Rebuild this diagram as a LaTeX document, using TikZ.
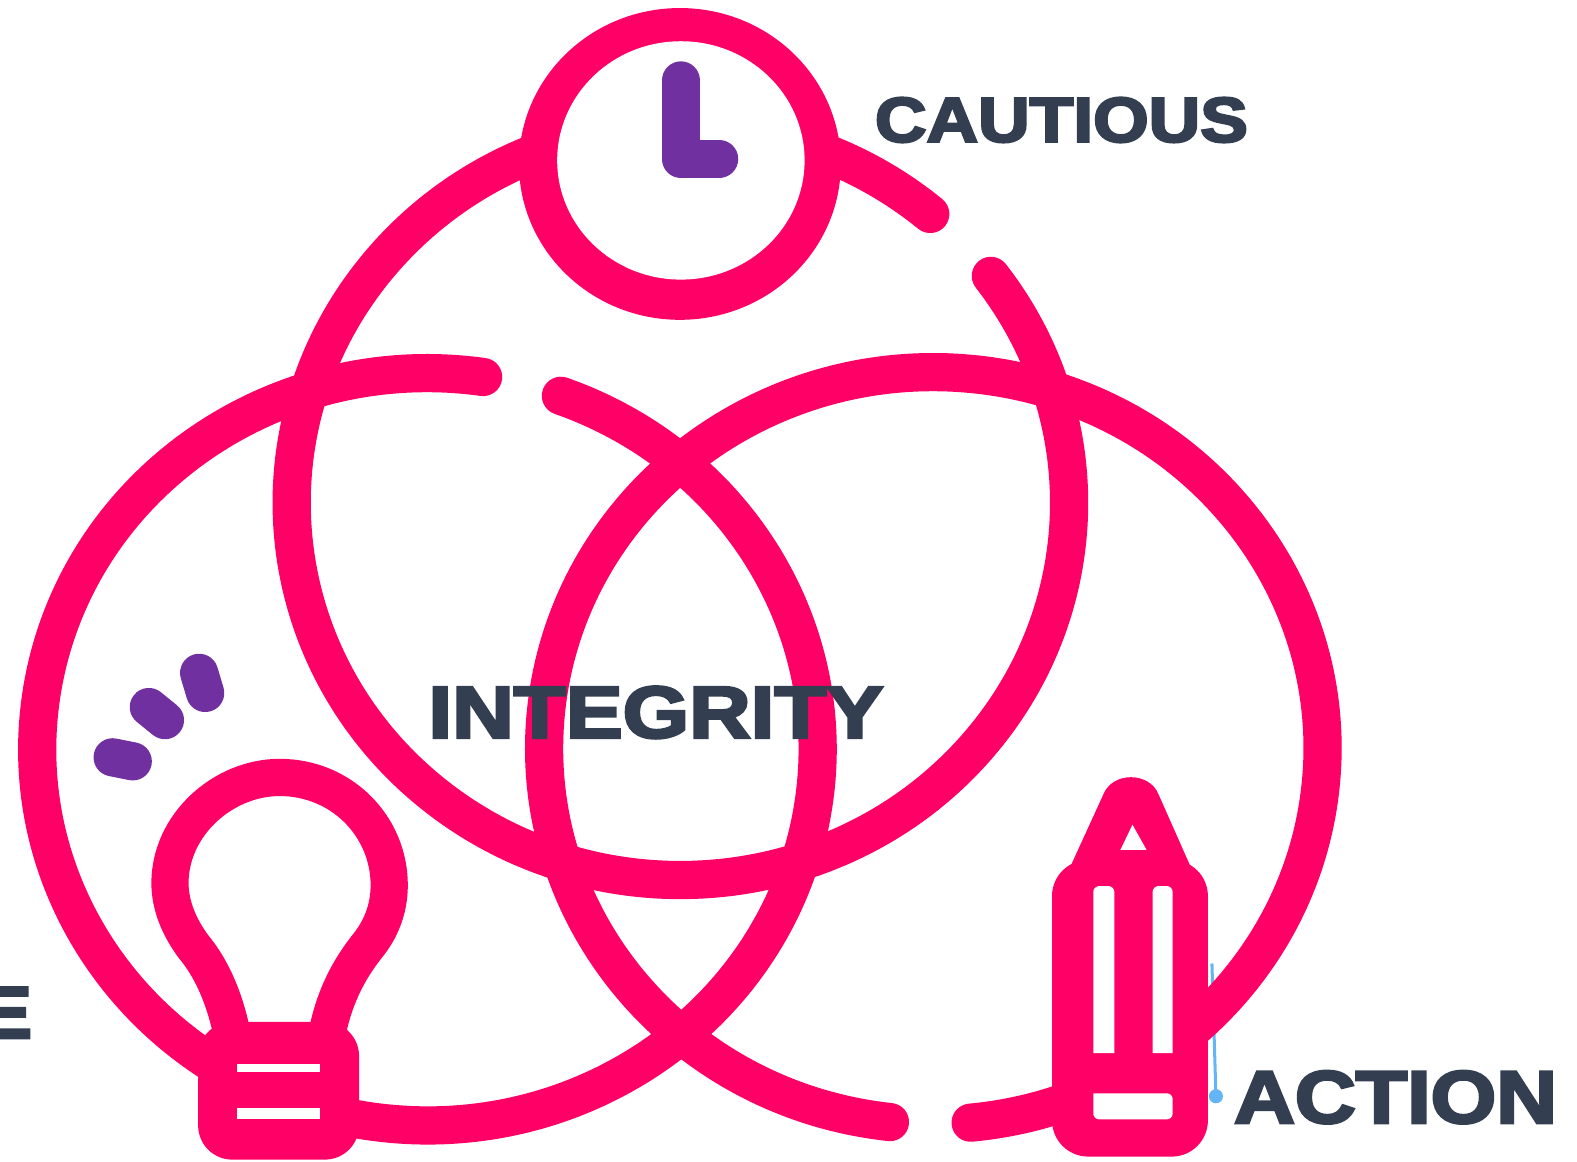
\documentclass[tikz,border=0pt]{standalone}
\usepackage{fontspec}
\usepackage{tikz}
\newfontfamily\labelfont[BoldFeatures={FakeBold=3.6}]{Liberation Sans}
\definecolor{ringPink}{HTML}{FF0066}
\definecolor{iconPurple}{HTML}{7030A0}
\definecolor{labelSlate}{HTML}{333F50}
\definecolor{guideBlue}{HTML}{64B5F6}
\newcommand\DrawRingArc[6]{% cx, cy, rx, ry, start, end
  \draw[ring line,shift={(#1,#2)}] (#5:#3 and #4) arc (#5:#6:#3 and #4);
}
\tikzset{%
  ring line/.style={draw=ringPink,line width=19pt,line cap=round},
  purple mark/.style={draw=iconPurple,line width=19pt,line cap=round,line join=round},
  window/.style={fill=white},
  word/.style={font=\labelfont\bfseries,text=labelSlate,inner sep=0pt,outer sep=0pt,anchor=base west,transform shape},
}
\begin{document}
\begin{tikzpicture}[x=0.5pt,y=-0.5pt]
\useasboundingbox (0,0) rectangle (1568,1155);
\clip (0,0) rectangle (1568,1155);

\draw[guideBlue,line width=1.5pt] (1205,958) -- (1209,1090); %guide
\fill[guideBlue] (1209,1090) circle (7);

\DrawRingArc{425}{745}{388}{374}{278.2}{-70} %left
\DrawRingArc{928}{744}{387}{374}{96.4}{444.5} %right
\DrawRingArc{676.5}{500}{386.5}{375}{-50}{-397} %top

% clock
\fill[ringPink] (676,163) ellipse (160 and 155);
\fill[white] (677,159.5) ellipse (123 and 118.5);
\draw[purple mark] (677,80) -- (677,158) -- (715,158);

% bulb
\draw[ringPink,line width=18.5pt] (232,1035) .. controls (224,990) and (208,960) .. (193,942)
  .. controls (178,922) and (169,900) .. (169,878)
  .. controls (169,820) and (222,773) .. (278,773)
  .. controls (340,773) and (387,822) .. (387,880)
  .. controls (387,905) and (378,925) .. (365,941)
  .. controls (350,960) and (331,990) .. (324,1035);
\fill[ringPink,rounded corners=17pt] (197,1016) rectangle (357,1153);
\fill[window] (236,1058) rectangle (318,1066);
\fill[window] (236,1102) rectangle (318,1113);
\draw[purple mark] (198,669) -- (204,689);
\draw[purple mark] (148,703) -- (164,716);
\draw[purple mark] (112,753) -- (132,757);

% pencil
\fill[ringPink] (1065,860) -- (1097,790) .. controls (1106,767) and (1143,767) .. (1152,790) -- (1183,860) -- cycle;
\fill[ringPink,rounded corners=18pt] (1046,855) rectangle (1201,1150);
\fill[window] (1126,820) -- (1114,845) -- (1140,845) -- cycle;
\fill[window,rounded corners=3pt] (1087,1047) -- (1087,881) -- (1108,881) [sharp corners] -- (1108,1047) -- cycle;
\fill[window,rounded corners=3pt] (1166,1047) -- (1166,881) -- (1146,881) [sharp corners] -- (1146,1047) -- cycle;
\fill[window,rounded corners=3pt] (1087,1087) -- (1087,1113) -- (1166,1113) -- (1166,1087) [sharp corners] -- cycle;

% labels
\node[word,xscale=3.55,yscale=3.15] (cautious) at (870,141) {CAUTIOUS};
\node[word,xscale=4.24,yscale=3.65] (integrity) at (426,733.5) {INTEGRITY};
\node[word,xscale=4.19,yscale=3.7] (action) at (1227,1116.5) {ACTION};
\node[word,xscale=4.2,yscale=3.65,anchor=base east] (lastletter) at (32,1032) {E};
\end{tikzpicture}
\end{document}
